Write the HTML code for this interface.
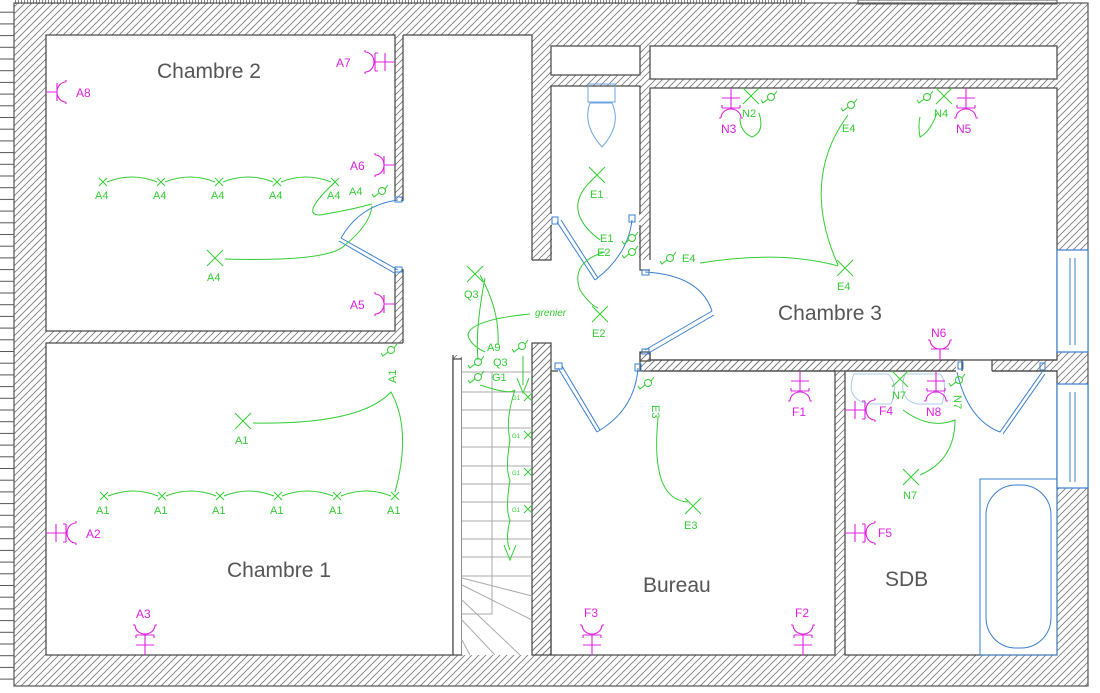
<!DOCTYPE html>
<html><head><meta charset="utf-8"><style>
html,body{margin:0;padding:0;background:#fff;width:1100px;height:693px;overflow:hidden}
svg{display:block}
.g{fill:#33cc33;font-family:"Liberation Sans",sans-serif;font-size:11px}
.m{fill:#e020e0;font-family:"Liberation Sans",sans-serif;font-size:12px}
.r{fill:#555;font-family:"Liberation Sans",sans-serif;font-size:21px}
</style></head><body>
<svg width="1100" height="693" viewBox="0 0 1100 693" xmlns="http://www.w3.org/2000/svg">
<defs>
<pattern id="h" width="7" height="7" patternUnits="userSpaceOnUse"><path d="M-1 8L8 -1M-1 1L1 -1M6 8L8 6" stroke="#777" stroke-width="0.8"/></pattern>
<pattern id="lt" width="14" height="11.7" patternUnits="userSpaceOnUse"><path d="M0 0.5H14" stroke="#555" stroke-width="1"/></pattern>
<pattern id="tt" width="3" height="4" patternUnits="userSpaceOnUse"><path d="M0.5 0V4" stroke="#666" stroke-width="0.8"/></pattern>
<g id="s1" fill="none" stroke="#e020e0" stroke-width="1.1"><path d="M0 0H11M11 -9V9M20 -10A9 10 0 0 0 20 10M20 -10v-2M20 10v2"/></g>
<g id="s2" fill="none" stroke="#e020e0" stroke-width="1.1"><path d="M0 0H20M10 -9V9M20 -9V9M30 -10A9 10 0 0 0 30 10M30 -10v-2M30 10v2M20 -9 h-3 M20 9h-3"/></g>
<g id="sw" fill="none" stroke="#33cc33" stroke-width="1"><circle cx="0" cy="0" r="3.5"/><path d="M-3 2L-8 6L-10 3M3 -2L6 -6"/></g>
<g id="x" stroke="#33cc33" stroke-width="1"><path d="M-8 -8L8 8M-8 8L8 -8"/></g>
<g id="xs" stroke="#33cc33" stroke-width="1"><path d="M-4 -4L4 4M-4 4L4 -4"/></g>
</defs>
<rect x="0" y="10" width="14" height="676" fill="url(#lt)"/>
<rect x="14" y="0" width="792" height="4" fill="url(#tt)"/>
<rect x="858" y="0" width="199" height="4" fill="none" stroke="#555"/>
<rect x="14" y="3" width="1074" height="683" fill="url(#h)" stroke="#555" stroke-width="1.2"/>
<g fill="#fff" stroke="#444" stroke-width="1.2">
<rect x="46" y="35" width="349" height="296"/>
<rect x="46" y="343" width="407" height="312"/>
<rect x="403" y="35" width="129" height="320" stroke="none"/>
<rect x="551" y="46" width="89" height="29"/>
<rect x="551" y="86" width="89" height="127"/>
<rect x="650" y="46" width="407" height="33"/>
<rect x="650" y="88" width="407" height="272"/>
<rect x="551" y="371" width="284" height="284"/>
<rect x="845" y="371" width="212" height="284"/>
<rect x="453" y="359" width="9" height="296"/>
<rect x="462" y="355" width="70" height="300" stroke="none"/>
<rect x="1057" y="250" width="31" height="102" stroke="#3a7fd0"/>
<rect x="1057" y="384" width="31" height="104" stroke="#3a7fd0"/>
</g>
<g fill="#fff">
<rect x="404" y="336" width="48" height="22"/>
<rect x="394" y="201" width="10" height="68"/>
<rect x="532" y="260" width="119" height="84"/>
<rect x="552" y="222" width="87" height="50"/>
<rect x="552" y="200" width="87" height="30"/>
<rect x="639" y="270" width="12" height="82"/>
<rect x="551" y="343" width="89" height="29"/>
<rect x="956" y="359" width="36" height="13"/>
</g>
<g stroke="#444" stroke-width="1.2" fill="url(#h)">
<path d="M403 35H532V260M403 35V201M403 269V343" fill="none"/>
<rect x="532" y="343" width="19" height="312"/>
<rect x="640" y="352" width="10" height="9"/>
<rect x="650" y="361" width="306" height="10" stroke="none"/>
<path d="M650 360H1057M650 371H956M992 371H1057M640 352V371M551 371H558M638 371H640" fill="none"/>
<path d="M532 260H551V225M640 225V270H650" fill="none"/>
<path d="M962 360V371M992 360V371" fill="none"/>
</g>
<g stroke="#3a7fd0" fill="none" stroke-width="1"><path d="M1070 258V345M1075 258V345M1070 392V482M1075 392V482"/></g>
<g stroke="#aaa" stroke-width="1" fill="none">
<path d="M462 372H532M462 392H532M462 410H532M462 428H532M462 447H532M462 466H532M462 484H532M462 502H532M462 521H532M462 539H532M462 557H532M462 576H532M492 372V614H462M462 578L532 596M462 585L532 620M462 600L520 655M462 620L495 655M462 640L470 655"/>
</g>
<g stroke="#3a7fd0" fill="none" stroke-width="1">
<rect x="395" y="197" width="7" height="5"/><rect x="395" y="267" width="7" height="5"/>
<path d="M398 270L341 238M396 274L339 241M341 238Q360 205 398 200"/>
<rect x="552" y="217" width="6" height="7"/><rect x="629" y="215" width="6" height="7"/>
<path d="M557 222L595 280M561 220L598 278M595 280Q628 255 632 220"/>
<path d="M645 272Q700 275 712 311M645 350L712 311M647 354L714 315"/><rect x="642" y="270" width="7" height="5"/><rect x="642" y="349" width="7" height="5"/>
<path d="M558 368L597 432M562 366L600 430M597 432Q635 410 638 368"/><rect x="555" y="363" width="7" height="6"/><rect x="635" y="364" width="6" height="7"/>
<path d="M957 372Q968 420 1000 432M1000 432L1042 372M1003 434L1045 374"/><rect x="958" y="362" width="5" height="7"/><rect x="1040" y="363" width="5" height="7"/>
<rect x="980" y="479" width="77" height="176"/><rect x="986" y="485" width="65" height="163" rx="30"/>
<path d="M588 84h27v18h-27zM590 103q-8 22 12 44q20-22 10-44z" stroke="#6ea6e0"/>
<path d="M854 374q-10 25 15 30h22q8-20-3-30z M905 374q-8 25 12 30h25q6-22-2-30z" stroke="#a8cbea"/>
</g>
<g stroke="#33cc33" fill="none" stroke-width="1">
<path d="M107 182Q132 172 157 182M165 182Q190 172 215 182M223 182Q248 172 273 182M281 182Q306 172 331 182"/>
<path d="M335 182Q300 215 320 215Q350 210 372 204"/>
<path d="M225 259Q330 262 345 245Q370 225 372 206"/>
<path d="M108 496Q133 486 158 496M166 496Q191 486 216 496M224 496Q249 486 274 496M282 496Q307 486 333 496M341 496Q366 486 391 496"/>
<path d="M253 423Q360 425 391 392Q412 430 395 492"/>
<path d="M480 275Q500 310 498 345M485 278Q475 330 478 360M530 314Q470 320 468 335Q470 345 485 352"/>
<path d="M523 356V385M517 378L523 393L529 378"/>
<path d="M480 385Q510 395 515 390Q505 420 510 440Q505 470 510 480Q505 510 510 520Q505 540 510 550M504 545L510 560L516 545"/>
<path d="M592 180Q560 210 600 240M605 252Q570 262 580 290Q590 305 598 308"/>
<path d="M848 115Q800 180 838 265M700 263Q780 250 838 266"/>
<path d="M759 113Q765 132 752 137Q740 132 740 118M937 113Q930 132 920 137Q918 125 920 117"/>
<path d="M658 418Q650 500 688 502"/>
<path d="M903 410Q930 430 955 420Q955 460 920 475"/>
</g>
<g fill="none" stroke="#33cc33">
<use href="#xs" x="103" y="182"/><use href="#xs" x="161" y="182"/><use href="#xs" x="219" y="182"/><use href="#xs" x="277" y="182"/><use href="#xs" x="335" y="182"/>
<use href="#xs" x="104" y="496"/><use href="#xs" x="162" y="496"/><use href="#xs" x="220" y="496"/><use href="#xs" x="278" y="496"/><use href="#xs" x="337" y="496"/><use href="#xs" x="395" y="496"/>
<use href="#xs" x="528" y="397"/><use href="#xs" x="528" y="435"/><use href="#xs" x="528" y="472"/><use href="#xs" x="528" y="509"/>
<use href="#x" x="215" y="258"/><use href="#x" x="243" y="421"/><use href="#x" x="475" y="274"/><use href="#x" x="597" y="175"/><use href="#x" x="600" y="314"/><use href="#x" x="845" y="268"/><use href="#x" x="693" y="506"/><use href="#x" x="911" y="477"/><use href="#x" x="751" y="96"/><use href="#x" x="944" y="96"/><use href="#x" x="900" y="379"/>
<use href="#sw" x="382" y="191"/><use href="#sw" x="391" y="350"/><use href="#sw" x="522" y="346"/><use href="#sw" x="478" y="362"/><use href="#sw" x="478" y="377"/><use href="#sw" x="632" y="238"/><use href="#sw" x="632" y="252"/><use href="#sw" x="670" y="258"/><use href="#sw" x="851" y="105"/><use href="#sw" x="771" y="97"/><use href="#sw" x="927" y="97"/><use href="#sw" x="648" y="383"/><use href="#sw" x="959" y="380"/>
</g>
<g class="g">
<text x="95" y="199">A4</text><text x="153" y="199">A4</text><text x="211" y="199">A4</text><text x="269" y="199">A4</text><text x="327" y="199">A4</text><text x="349" y="195">A4</text><text x="207" y="281">A4</text>
<text x="96" y="514">A1</text><text x="154" y="514">A1</text><text x="212" y="514">A1</text><text x="270" y="514">A1</text><text x="329" y="514">A1</text><text x="387" y="514">A1</text><text x="235" y="444">A1</text>
<text transform="translate(396,383) rotate(-90)">A1</text>
<text x="464" y="298">Q3</text><text x="487" y="351">A9</text><text x="493" y="366">Q3</text><text x="492" y="381">G1</text>
<text x="535" y="316" font-size="10" font-style="italic">grenier</text>
<g font-size="6"><text x="512" y="400">G1</text><text x="512" y="438">G1</text><text x="512" y="475">G1</text><text x="512" y="512">G1</text></g>
<text x="590" y="198">E1</text><text x="600" y="242">E1</text><text x="597" y="256">E2</text><text x="592" y="337">E2</text>
<text x="682" y="262">E4</text><text x="837" y="290">E4</text><text x="842" y="132">E4</text>
<text x="742" y="117">N2</text><text x="934" y="117">N4</text>
<text transform="translate(652,405) rotate(90)">E3</text><text x="684" y="529">E3</text>
<text x="892" y="399">N7</text><text x="903" y="499">N7</text><text transform="translate(954,395) rotate(90)">N7</text>
</g>
<use href="#s1" transform="translate(46,92)"/>
<use href="#s2" transform="translate(395,62) rotate(180)"/>
<use href="#s1" transform="translate(395,165) rotate(180)"/>
<use href="#s1" transform="translate(395,304) rotate(180)"/>
<use href="#s2" transform="translate(46,533)"/>
<use href="#s2" transform="translate(145,655) rotate(-90)"/>
<use href="#s2" transform="translate(731,88) rotate(90)"/>
<use href="#s2" transform="translate(966,88) rotate(90)"/>
<use href="#s2" transform="translate(800,371) rotate(90)"/>
<use href="#s2" transform="translate(592,655) rotate(-90)"/>
<use href="#s2" transform="translate(803,655) rotate(-90)"/>
<use href="#s2" transform="translate(845,410)"/>
<use href="#s2" transform="translate(845,533)"/>
<use href="#s1" transform="translate(940,360) rotate(-90)"/>
<use href="#s2" transform="translate(936,371) rotate(90)"/>
<g class="m">
<text x="336" y="67">A7</text><text x="350" y="170">A6</text><text x="350" y="309">A5</text><text x="76" y="97">A8</text>
<text x="86" y="538">A2</text><text x="136" y="618">A3</text>
<text x="721" y="133">N3</text><text x="956" y="133">N5</text><text x="931" y="337">N6</text>
<text x="792" y="416">F1</text><text x="584" y="617">F3</text><text x="795" y="617">F2</text>
<text x="879" y="415">F4</text><text x="878" y="537">F5</text><text x="926" y="416">N8</text>
</g>
<g class="r">
<text x="157" y="78">Chambre 2</text><text x="227" y="577">Chambre 1</text><text x="778" y="320">Chambre 3</text><text x="643" y="592">Bureau</text><text x="885" y="586">SDB</text>
</g>
</svg>
</body></html>
